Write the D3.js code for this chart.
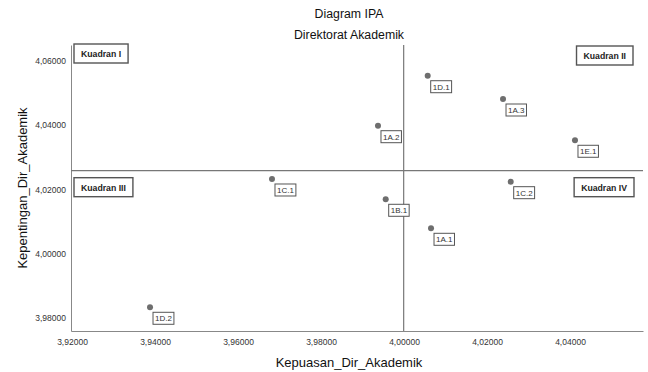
<!DOCTYPE html>
<html><head><meta charset="utf-8">
<script src="https://cdn.jsdelivr.net/npm/d3@7"></script>
<style>body{margin:0;background:#fff;} svg{display:block;font-family:Arial,"Liberation Sans",sans-serif;}</style>
</head><body>
<script>
const labels = ["1D.1","1A.3","1A.2","1E.1","1C.2","1C.1","1B.1","1A.1","1D.2"];
const kepuasan = [4.00571,4.02386,3.99373,4.04120,4.02571,3.96819,3.99559,4.00651,3.93880];
const kepentingan = [4.05542,4.04817,4.03986,4.03532,4.02243,4.02327,4.01695,4.00792,3.98333];
const xTicks = [3.92,3.94,3.96,3.98,4.00,4.02,4.04];
const yTicks = [3.98,4.00,4.02,4.04,4.06];
const quadrants = ["Kuadran I","Kuadran II","Kuadran III","Kuadran IV"];
const title1 = "Diagram IPA", title2 = "Direktorat Akademik";
const xTitle = "Kepuasan_Dir_Akademik", yTitle = "Kepentingan_Dir_Akademik";

const W=648,H=372, L=71,R=643,T=45,B=331;
const svg=d3.select("body").append("svg").attr("width",W).attr("height",H);
const x=d3.scaleLinear().domain([3.91976,4.05759]).range([L,R]);
const y=d3.scaleLinear().domain([3.97595,4.06498]).range([B,T]);
const fmt=v=>d3.format(".5f")(v).replace(".",",");

svg.append("text").attr("x",349).attr("y",18).attr("text-anchor","middle").attr("font-size",12.3).attr("fill","#111").text(title1);
svg.append("text").attr("x",349).attr("y",39).attr("text-anchor","middle").attr("font-size",12.3).attr("fill","#111").text(title2);

const xa=svg.append("g").attr("transform",`translate(0,${B})`).call(d3.axisBottom(x).tickValues(xTicks).tickFormat(fmt).tickSize(0).tickPadding(8));
const ya=svg.append("g").attr("transform",`translate(${L},0)`).call(d3.axisLeft(y).tickValues(yTicks).tickFormat(fmt).tickSize(0).tickPadding(5));
[xa,ya].forEach(a=>{a.select(".domain").attr("stroke","#888");a.selectAll("text").attr("font-size",8.5).attr("fill","#333").attr("font-family","Arial,'Liberation Sans',sans-serif");});

svg.append("text").attr("x",349).attr("y",367).attr("text-anchor","middle").attr("font-size",13).attr("fill","#111").text(xTitle);
svg.append("text").attr("transform",`translate(27,${(T+B)/2}) rotate(-90)`).attr("text-anchor","middle").attr("font-size",13).attr("fill","#111").text(yTitle);

const mx=d3.mean(kepuasan), my=d3.mean(kepentingan);
svg.append("line").attr("x1",x(mx)).attr("x2",x(mx)).attr("y1",T).attr("y2",B).attr("stroke","#777").attr("stroke-width",1.2);
svg.append("line").attr("x1",L).attr("x2",R).attr("y1",y(my)).attr("y2",y(my)).attr("stroke","#777").attr("stroke-width",1.2);

function qbox(text, px, py, anchorRight){
  const g=svg.append("g");
  const t=g.append("text").attr("font-size",8.7).attr("font-weight","bold").attr("fill","#222").text(text);
  const w=t.node().getComputedTextLength()+14, h=19;
  const x0=anchorRight?px-w:px;
  g.insert("rect","text").attr("x",x0).attr("y",py).attr("width",w).attr("height",h).attr("fill","#fff").attr("stroke","#555").attr("stroke-width",1.4);
  t.attr("x",x0+7).attr("y",py+13);
}
qbox(quadrants[0], L+3, T-1, false);
qbox(quadrants[1], 633, T+1, true);
qbox(quadrants[2], L+3, y(my)+7, false);
qbox(quadrants[3], 634, y(my)+7, true);

const data=labels.map((l,i)=>({l,x:kepuasan[i],y:kepentingan[i]}));
svg.append("g").selectAll("circle").data(data).join("circle")
  .attr("cx",d=>x(d.x)).attr("cy",d=>y(d.y)).attr("r",3).attr("fill","#6e6e6e");
const lg=svg.append("g").selectAll("g").data(data).join("g");
lg.each(function(d){
  const g=d3.select(this);
  const t=g.append("text").attr("font-size",8).attr("fill","#333").text(d.l);
  const w=t.node().getComputedTextLength()+4;
  const bx=x(d.x)+3, by=y(d.y)+5;
  g.insert("rect","text").attr("x",bx).attr("y",by).attr("width",w).attr("height",12).attr("fill","#fff").attr("stroke","#555").attr("stroke-width",1);
  t.attr("x",bx+2).attr("y",by+9);
});
</script>
</body></html>
